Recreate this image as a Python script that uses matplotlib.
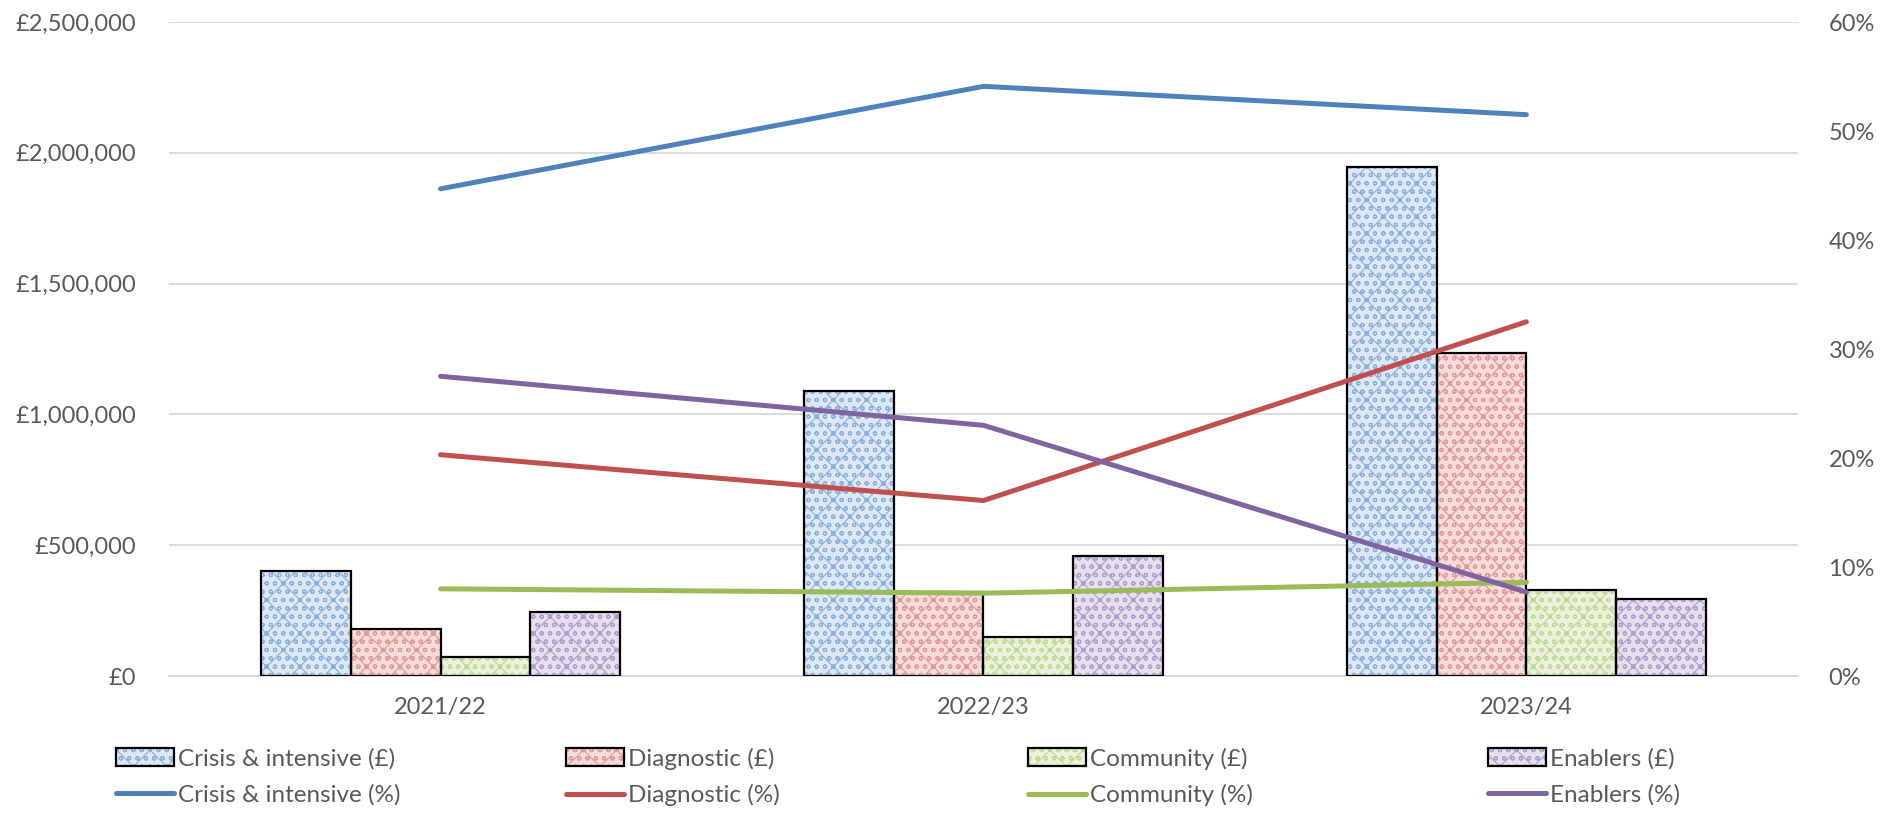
import numpy as np
import matplotlib
matplotlib.use("Agg")
import matplotlib.pyplot as plt
from matplotlib.ticker import FuncFormatter
from matplotlib.patches import Patch
from matplotlib.lines import Line2D

plt.rcParams['font.family'] = ['Lato', 'DejaVu Sans']
plt.rcParams['hatch.linewidth'] = 0.8

years = ['2021/22', '2022/23', '2023/24']
series = ['Crisis & intensive', 'Diagnostic', 'Community', 'Enablers']

# spend by year (£)
crisis_gbp = [400000, 1090000, 1945000]
diagnostic_gbp = [180000, 322000, 1233000]
community_gbp = [72000, 148000, 327000]
enablers_gbp = [246000, 459000, 293000]

# share of spend (%)
crisis_pct = [44.7, 54.1, 51.5]
diagnostic_pct = [20.3, 16.1, 32.5]
community_pct = [8.0, 7.6, 8.6]
enablers_pct = [27.5, 23.0, 7.7]

gbp = [crisis_gbp, diagnostic_gbp, community_gbp, enablers_gbp]
pct = [crisis_pct, diagnostic_pct, community_pct, enablers_pct]

line_cols = ['#4f81bd', '#c0504d', '#9bbb59', '#8064a2']
face_cols = ['#dde8f6', '#f5dcdb', '#eaf2dc', '#e5dfee']
hatch_cols = ['#8caedb', '#df9896', '#bfd994', '#ae9ecb']
pattern = 'oox'
txt = '#595959'

fig = plt.figure(figsize=(18.83, 8.22), dpi=100)
ax = fig.add_axes([0.0898, 0.1776, 0.865, 0.7956])
ax2 = ax.twinx()

x = np.arange(len(years))
w = 0.165
handles = []
for i in range(4):
    pos = x + (i - 1.5) * w
    ax.bar(pos, gbp[i], w, color=face_cols[i], edgecolor=hatch_cols[i],
           hatch=pattern, linewidth=0, zorder=2)
    ax.bar(pos, gbp[i], w, color='none', edgecolor='black', linewidth=1.6, zorder=3)
    hp = (Patch(facecolor=face_cols[i], edgecolor=hatch_cols[i], hatch=pattern, linewidth=0),
          Patch(facecolor='none', edgecolor='black', linewidth=1.6))
    ax2.plot(x, np.array(pct[i]) / 100, color=line_cols[i], lw=3.6,
             solid_capstyle='round', solid_joinstyle='round')
    lh = Line2D([], [], color=line_cols[i], lw=3.6, solid_capstyle='round')
    handles.append((hp, lh))

ax.set_xlim(-0.5, 2.5)
ax.set_ylim(0, 2500000)
ax.set_yticks(np.arange(0, 2500001, 500000))
ax.yaxis.set_major_formatter(FuncFormatter(lambda v, p: '£{:,.0f}'.format(v)))
ax.grid(axis='y', color='#d9d9d9', lw=1.3, zorder=0)
ax.set_axisbelow(True)
ax.set_xticks(x)
ax.set_xticklabels(years)

ax2.set_ylim(0, 0.6)
ax2.set_yticks(np.arange(0, 0.61, 0.1))
ax2.yaxis.set_major_formatter(FuncFormatter(lambda v, p: '{:.0f}%'.format(v * 100)))

for a in (ax, ax2):
    for s in a.spines.values():
        s.set_visible(False)
    a.tick_params(length=0, labelsize=17, labelcolor=txt)
ax.spines['bottom'].set_visible(True)
ax.spines['bottom'].set_color('#d9d9d9')
ax.spines['bottom'].set_linewidth(1.3)
ax.tick_params(axis='y', pad=24)
ax.tick_params(axis='x', pad=15)
ax2.tick_params(axis='y', pad=22)

col_x = [116, 566, 1028, 1488]
for i in range(4):
    hp, lh = handles[i]
    leg = fig.legend([hp, lh], [series[i] + ' (£)', series[i] + ' (%)'],
                     loc='center left', bbox_to_anchor=(col_x[i] / 1883, 1 - 777 / 822),
                     frameon=False, fontsize=17.5, handlelength=2.4, handleheight=0.75,
                     handletextpad=0.15, labelspacing=0.6, borderpad=0, borderaxespad=0)
    for t in leg.get_texts():
        t.set_color(txt)

fig.savefig('out.png', dpi=100)
